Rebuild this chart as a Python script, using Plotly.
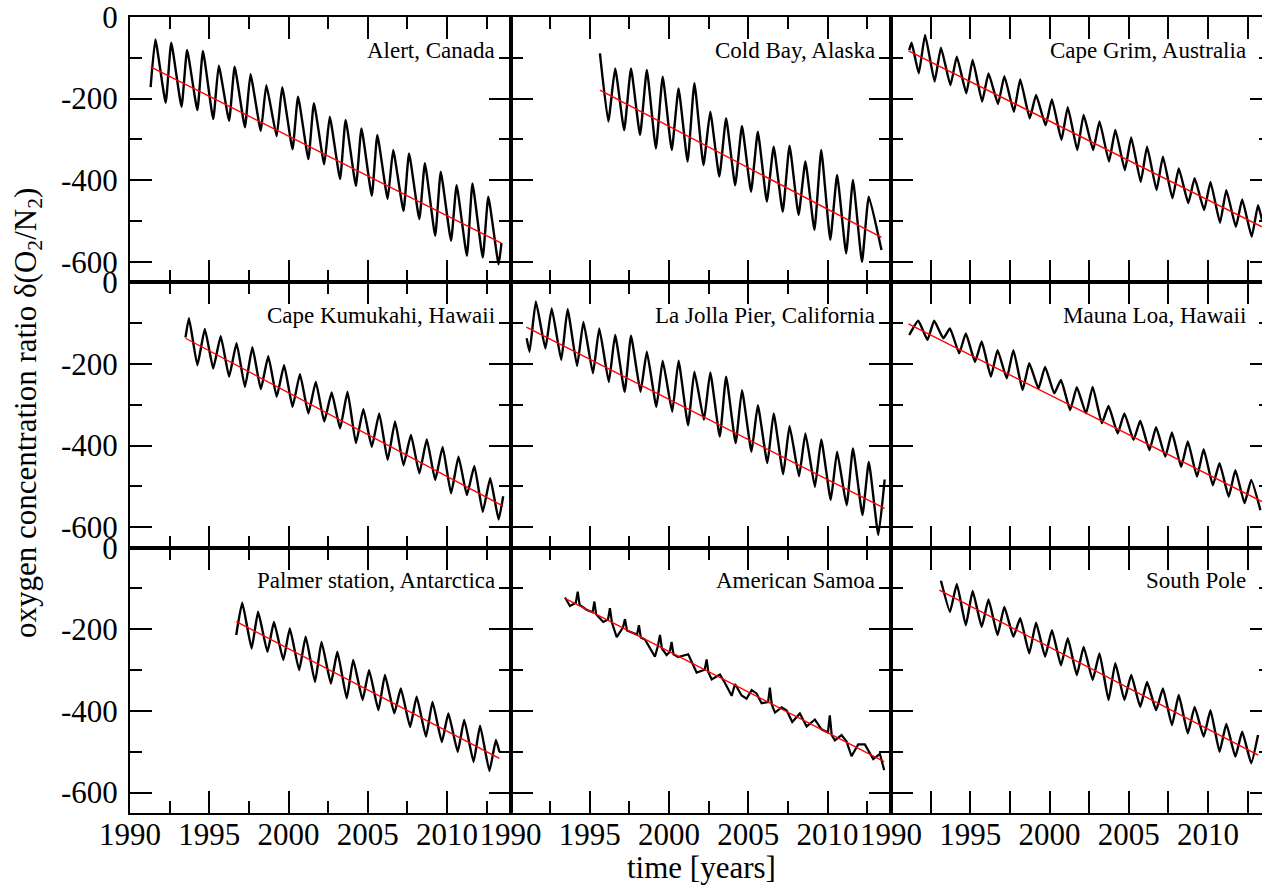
import plotly.graph_objects as go

# ---------------- data ----------------
station_names = ["Alert, Canada", "Cold Bay, Alaska", "Cape Grim, Australia",
                 "Cape Kumukahi, Hawaii", "La Jolla Pier, California", "Mauna Loa, Hawaii",
                 "Palmer station, Antarctica", "American Samoa", "South Pole"]

# Alert, Canada
alert_start = [(1991.3, -172)]
alert_peak_t0 = 1991.6
alert_peaks = [-55, -63, -81, -83, -119, -122, -140, -167, -172, -195, -211, -244, -252, -273,
               -289, -326, -334, -358, -379, -412, -408, -440]
alert_trough_t0 = 1992.25
alert_troughs = [-210, -220, -228, -250, -254, -270, -279, -292, -324, -348, -361, -397, -414,
                 -438, -446, -475, -495, -536, -548, -585, -589, -606]
alert_end = [(2013.43, -554)]
alert_trend = [(1991.3, -122), (2013.43, -554)]

# Cold Bay, Alaska
coldbay_start = [(1995.64, -89)]
coldbay_peak_t0 = 1996.6
coldbay_peaks = [-126, -126, -130, -146, -175, -162, -232, -248, -267, -281, -318, -315, -354,
                 -326, -387, -399, -440]
coldbay_trough_t0 = 1996.17
coldbay_troughs = [-256, -277, -289, -322, -326, -354, -363, -391, -412, -428, -452, -477, -485,
                   -522, -546, -579, -600]
coldbay_end = [(2013.4, -571)]
coldbay_trend = [(1995.64, -179), (2013.4, -540)]

# Cape Grim, Australia
capegrim_start = [(1991.15, -81), (1991.3, -63)]
capegrim_peak_t0 = 1992.15
capegrim_peaks = [-44, -75, -97, -105, -138, -145, -153, -191, -202, -221, -240, -256, -277,
                  -295, -318, -342, -371, -395, -404, -424, -447, -461]
capegrim_trough_t0 = 1991.75
capegrim_troughs = [-138, -158, -167, -187, -207, -213, -232, -248, -265, -301, -326, -326, -354,
                    -375, -404, -424, -444, -456, -473, -504, -514, -538]
capegrim_end = [(2013.4, -497)]
capegrim_trend = [(1991.1, -83), (2013.4, -514)]

# Cape Kumukahi, Hawaii
kumukahi_start = [(1993.5, -135)]
kumukahi_peak_t0 = 1993.72
kumukahi_peaks = [-88, -114, -132, -149, -159, -181, -203, -225, -244, -270, -268, -311, -321,
                  -341, -374, -385, -403, -427, -450, -480]
kumukahi_trough_t0 = 1994.25
kumukahi_troughs = [-203, -211, -231, -256, -262, -280, -305, -321, -341, -358, -394, -403, -435,
                    -448, -468, -484, -517, -521, -562, -581]
kumukahi_end = [(2013.54, -524)]
kumukahi_trend = [(1993.5, -137), (2013.54, -548)]

# La Jolla Pier, California
lajolla_start = [(1991.02, -137)]
lajolla_peak_t0 = 1991.6
lajolla_peaks = [-47, -64, -66, -97, -113, -129, -131, -170, -192, -192, -219, -221, -231, -264,
                 -301, -321, -352, -370, -385, -415, -407, -440]
lajolla_trough_t0 = 1991.2
lajolla_troughs = [-170, -162, -190, -205, -223, -244, -268, -268, -305, -317, -350, -337, -378,
                   -394, -415, -443, -470, -475, -501, -533, -546, -570, -619]
lajolla_end = [(2013.6, -483)]
lajolla_trend = [(1991.0, -110), (2013.6, -554)]

# Mauna Loa, Hawaii
maunaloa_start = [(1991.15, -129)]
maunaloa_peak_t0 = 1991.72
maunaloa_peaks = [-94, -94, -113, -125, -145, -166, -166, -198, -207, -239, -257, -256, -303,
                  -321, -339, -355, -368, -390, -409, -443, -460, -484]
maunaloa_trough_t0 = 1992.3
maunaloa_troughs = [-141, -137, -174, -195, -231, -235, -264, -260, -272, -313, -321, -345, -370,
                    -386, -411, -427, -452, -476, -497, -525, -541, -558]
maunaloa_end = []
maunaloa_trend = [(1991.1, -102), (2013.4, -537)]

# Palmer station, Antarctica
palmer_start = [(1996.7, -214)]
palmer_peak_t0 = 1997.08
palmer_peaks = [-135, -157, -182, -198, -218, -231, -255, -275, -300, -312, -345, -365, -378,
                -406, -422, -436, -471]
palmer_trough_t0 = 1997.67
palmer_troughs = [-247, -255, -275, -300, -329, -333, -369, -373, -398, -406, -439, -463, -476,
                  -500, -525, -547]
palmer_end = [(2013.3, -500)]
palmer_trend = [(1996.7, -181), (2013.3, -516)]

# American Samoa (noisy record around the trend, narrow spikes)
samoa_t = [1993.44, 1993.75, 1994.12, 1994.24, 1994.36, 1994.49, 1994.8, 1995.18, 1995.29, 1995.4,
           1995.54, 1995.85, 1996.15, 1996.27, 1996.4, 1996.7, 1997.1, 1997.22, 1997.35, 1997.64,
           1997.98, 1998.1, 1998.22, 1998.48, 1999.11, 1999.3, 1999.43, 1999.55, 1999.85, 2000.05,
           2000.16, 2000.28, 2000.58, 2001.21, 2001.74, 2002.25, 2002.37, 2002.48, 2002.69, 2003.21,
           2003.52, 2003.95, 2004.16, 2004.58, 2004.89, 2005.21, 2005.52, 2005.84, 2006.25, 2006.36,
           2006.48, 2006.68, 2007.1, 2007.42, 2007.77, 2008.25, 2008.68, 2009.2, 2009.62, 2010.02,
           2010.14, 2010.26, 2010.46, 2010.88, 2011.2, 2011.51, 2011.93, 2012.35, 2012.88, 2013.3,
           2013.57]
samoa_v = [-122, -143, -135, -108, -140, -144, -152, -158, -132, -163,
           -169, -182, -176, -148, -184, -219, -195, -175, -203, -208,
           -213, -190, -220, -225, -267, -241, -214, -247, -263, -255,
           -231, -261, -268, -261, -306, -299, -274, -305, -323, -311,
           -331, -363, -334, -362, -370, -349, -357, -381, -378, -343,
           -384, -404, -391, -399, -427, -406, -438, -421, -445, -453,
           -411, -459, -472, -459, -475, -511, -482, -482, -518, -505,
           -545]
samoa_trend = [(1993.44, -124), (2013.57, -524)]

# South Pole
southpole_start = []
southpole_peak_t0 = 1993.15
southpole_peaks = [-81, -89, -106, -127, -145, -173, -184, -202, -222, -243, -259, -283, -312,
                   -329, -345, -361, -390, -398, -432, -451, -459]
southpole_trough_t0 = 1993.72
southpole_troughs = [-157, -190, -194, -214, -218, -259, -267, -288, -312, -324, -373, -373, -390,
                     -398, -435, -455, -463, -500, -512, -528]
southpole_end = []
southpole_trend = [(1993.05, -104), (2013.16, -508)]

x_tickvals = [1990, 1995, 2000, 2005, 2010]
x_ticktext = ["1990", "1995", "2000", "2005", "2010"]
y_tickvals = [0, -200, -400, -600]
y_ticktext = ["0", "-200", "-400", "-600"]
y_minor = [-100, -300, -500]
x_minor = [1992.5, 1997.5, 2002.5, 2007.5, 2012.5]


def seasonal(start, peak_t0, peaks, trough_t0, troughs, end):
    pts = list(start)
    pts += [(peak_t0 + i, v) for i, v in enumerate(peaks)]
    pts += [(trough_t0 + i, v) for i, v in enumerate(troughs)]
    pts += list(end)
    pts.sort(key=lambda p: p[0])
    return [p[0] for p in pts], [p[1] for p in pts]


series = [
    seasonal(alert_start, alert_peak_t0, alert_peaks, alert_trough_t0, alert_troughs, alert_end),
    seasonal(coldbay_start, coldbay_peak_t0, coldbay_peaks, coldbay_trough_t0, coldbay_troughs, coldbay_end),
    seasonal(capegrim_start, capegrim_peak_t0, capegrim_peaks, capegrim_trough_t0, capegrim_troughs, capegrim_end),
    seasonal(kumukahi_start, kumukahi_peak_t0, kumukahi_peaks, kumukahi_trough_t0, kumukahi_troughs, kumukahi_end),
    seasonal(lajolla_start, lajolla_peak_t0, lajolla_peaks, lajolla_trough_t0, lajolla_troughs, lajolla_end),
    seasonal(maunaloa_start, maunaloa_peak_t0, maunaloa_peaks, maunaloa_trough_t0, maunaloa_troughs, maunaloa_end),
    seasonal(palmer_start, palmer_peak_t0, palmer_peaks, palmer_trough_t0, palmer_troughs, palmer_end),
    (samoa_t, samoa_v),
    seasonal(southpole_start, southpole_peak_t0, southpole_peaks, southpole_trough_t0, southpole_troughs, southpole_end),
]
trends = [alert_trend, coldbay_trend, capegrim_trend, kumukahi_trend, lajolla_trend,
          maunaloa_trend, palmer_trend, samoa_trend, southpole_trend]

# ---------------- layout geometry ----------------
W, H = 1262, 885
col_px = [130, 510.5, 891, 1262]
row_px = [17, 282.3, 547.6, 812.9]
PL, PT = col_px[0], row_px[0]
PW = col_px[-1] - PL
PH = row_px[-1] - PT
FONT = "Liberation Serif"

fig = go.Figure()
layout = dict(
    width=W, height=H, template="none",
    paper_bgcolor="white", plot_bgcolor="white",
    margin=dict(l=PL, r=W - col_px[-1], t=PT, b=H - row_px[-1], pad=0),
    showlegend=False,
    font=dict(family=FONT, color="black"),
)
annotations = []

for i in range(9):
    r, c = divmod(i, 3)
    n = i + 1
    xs = "" if n == 1 else str(n)
    xd = [(col_px[c] - PL) / PW, (col_px[c + 1] - PL) / PW]
    yd = [(row_px[-1] - row_px[r + 1]) / PH, (row_px[-1] - row_px[r]) / PH]
    xr = [1990, 2014] if c < 2 else [1990, 2013.4]
    layout["xaxis" + xs] = dict(
        domain=xd, range=xr, anchor="y" + xs, showgrid=False, zeroline=False,
        showline=True, linecolor="black", linewidth=2, mirror="allticks",
        ticks="inside", ticklen=22, tickwidth=2, tickcolor="black",
        tickmode="array", tickvals=x_tickvals, ticktext=x_ticktext,
        minor=dict(tickmode="array", tickvals=x_minor, ticks="inside", ticklen=12,
                   tickwidth=2, tickcolor="black", showgrid=False),
        showticklabels=(r == 2), tickfont=dict(family=FONT, size=31, color="black"),
        ticklabelstandoff=-7, ticklabeloverflow="allow", automargin=False,
    )
    layout["yaxis" + xs] = dict(
        domain=yd, range=[-650, 0], anchor="x" + xs, showgrid=False, zeroline=False,
        showline=True, linecolor="black", linewidth=2,
        mirror=("allticks" if c < 2 else False),
        ticks="inside", ticklen=22, tickwidth=2, tickcolor="black",
        tickmode="array", tickvals=y_tickvals, ticktext=y_ticktext,
        minor=dict(tickmode="array", tickvals=y_minor, ticks="inside", ticklen=12,
                   tickwidth=2, tickcolor="black", showgrid=False),
        showticklabels=(c == 0), tickfont=dict(family=FONT, size=31, color="black"),
        ticklabelstandoff=4, ticklabeloverflow="allow", automargin=False,
    )
    t, v = series[i]
    is_samoa = station_names[i] == "American Samoa"
    line_style = (dict(color="black", width=2.2) if is_samoa
                  else dict(color="black", width=2.4, shape="spline", smoothing=0.4))
    fig.add_trace(go.Scatter(x=t, y=v, mode="lines", line=line_style,
                             xaxis="x" + xs, yaxis="y" + xs, hoverinfo="skip"))
    tr = trends[i]
    fig.add_trace(go.Scatter(x=[p[0] for p in tr], y=[p[1] for p in tr], mode="lines",
                             line=dict(color="red", width=1.4),
                             xaxis="x" + xs, yaxis="y" + xs, hoverinfo="skip"))
    annotations.append(dict(
        text=station_names[i], xref="paper", yref="paper", x=xd[1], y=yd[1],
        xanchor="right", yanchor="middle", xshift=-14, yshift=-33, showarrow=False,
        font=dict(family=FONT, size=23, color="black")))

# right-hand tick stubs of the right column (its frame lies just past the page edge)
for r in range(3):
    base = 3 * r + 3
    k = 10 + r
    yd = [(row_px[-1] - row_px[r + 1]) / PH, (row_px[-1] - row_px[r]) / PH]
    layout["yaxis%d" % k] = dict(
        domain=yd, range=[-650, 0], overlaying="y%d" % base, side="right",
        anchor="free", position=1.0, showgrid=False, zeroline=False, showline=False,
        ticks="inside", ticklen=12, tickwidth=2, tickcolor="black",
        tickmode="array", tickvals=y_tickvals, showticklabels=False,
        minor=dict(tickmode="array", tickvals=y_minor, ticks="inside", ticklen=3,
                   tickwidth=2, tickcolor="black", showgrid=False),
    )
    fig.add_trace(go.Scatter(x=[None], y=[None], mode="lines", xaxis="x%d" % base,
                             yaxis="y%d" % k, hoverinfo="skip"))

annotations.append(dict(
    text="time [years]", xref="paper", yref="paper", x=(701 - PL) / PW,
    y=(row_px[-1] - 867) / PH, xanchor="center", yanchor="middle", showarrow=False,
    font=dict(family=FONT, size=31, color="black")))
annotations.append(dict(
    text="oxygen concentration ratio δ(O<sub>2</sub>/N<sub>2</sub>)", xref="paper", yref="paper",
    x=(28 - PL) / PW, y=(row_px[-1] - 413) / PH, xanchor="center", yanchor="middle",
    textangle=-90, showarrow=False, font=dict(family=FONT, size=31, color="black")))
layout["annotations"] = annotations
fig.update_layout(**layout)

fig.write_html("out.html")
